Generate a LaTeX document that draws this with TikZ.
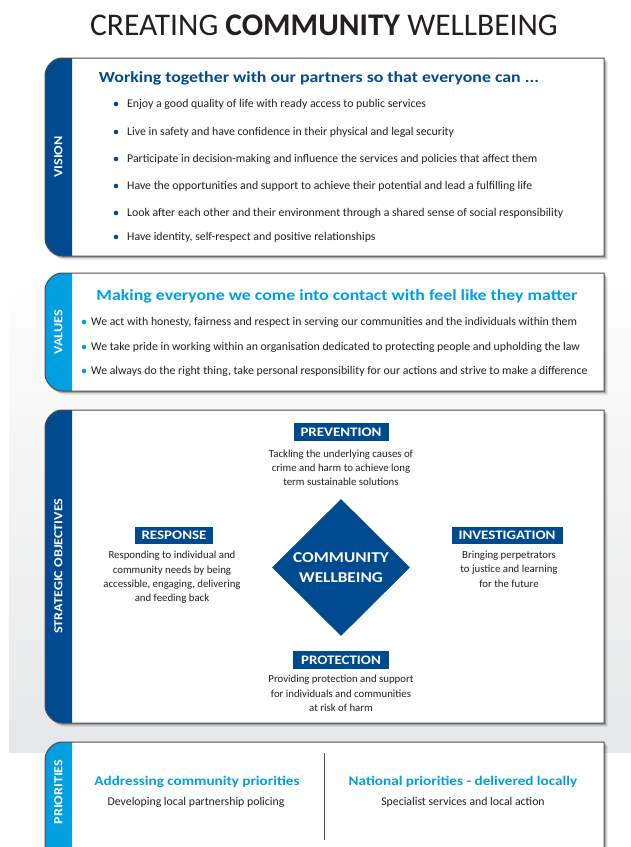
\documentclass[tikz,border=0pt]{standalone}
\usepackage{fontspec}
\setmainfont{Carlito}
\newfontfamily\widefont[FakeStretch=1.15]{Carlito}
\usetikzlibrary{shapes.geometric}
\definecolor{dblue}{HTML}{004A8F}
\definecolor{lblue}{HTML}{00A0E0}
\definecolor{txt}{HTML}{231F20}
\definecolor{bordergray}{HTML}{4D4D4F}
\definecolor{bggray}{HTML}{E6E7E8}
\newcommand\mypanel[3]{%
  \fill[black,opacity=0.12] (75,#1+3.5) -- (607.5,#1+3.5) -- (607.5,#2+3.5) -- (65,#2+3.5) .. controls (55.6,#2+3.5) and (48,#2-5.9) .. (48,#2-13.5) -- (48,#1+20.5) -- cycle;
  \fill[black,opacity=0.22] (74,#1+2) -- (606,#1+2) -- (606,#2+2) -- (64,#2+2) .. controls (54.6,#2+2) and (47,#2-7.4) .. (47,#2-15) -- (47,#1+19) -- cycle;
  \fill[white] (72,#1) -- (604,#1) -- (604,#2) -- (72,#2) -- cycle;
  \fill[#3] (72,#1) -- (72,#2) -- (62,#2) .. controls (52.6,#2) and (45,#2-9.4) .. (45,#2-17) -- (45,#1+17) .. controls (45,#1+9.4) and (52.6,#1) .. (62,#1) -- cycle;
  \draw[bordergray,line width=1pt] (72,#1) -- (604,#1) -- (604,#2) -- (62,#2) .. controls (52.6,#2) and (45,#2-9.4) .. (45,#2-17) -- (45,#1+17) .. controls (45,#1+9.4) and (52.6,#1) .. (62,#1) -- cycle;
}
\tikzset{
  bodyfont/.style={font=\fontsize{11.8}{14}\selectfont},
  stratfont/.style={font=\fontsize{10.8}{14.3}\selectfont},
  bul/.style={circle, fill=#1, inner sep=0pt, minimum size=4.6pt},
  btext/.style={anchor=base west, inner sep=0pt, text=txt, bodyfont, yshift=-3.8pt},
  ctext/.style={anchor=north, inner sep=0pt, text=txt, stratfont, align=center},
  heading/.style={inner sep=0pt, anchor=base, yshift=-5pt, font=\widefont\bfseries\fontsize{15.5}{18}\selectfont},
  lbl/.style={fill=dblue, text=white, inner sep=0pt, font=\widefont\bfseries\fontsize{13}{15}\selectfont},
  tablabel/.style={rotate=90, text=white, inner sep=0pt, font=\widefont\bfseries\fontsize{12.3}{14}\selectfont},
  phead/.style={inner sep=0pt, anchor=base, yshift=-4.8pt, text=lblue, font=\widefont\bfseries\fontsize{13.2}{16}\selectfont},
  ptext/.style={inner sep=0pt, anchor=base, yshift=-3.8pt, text=txt, bodyfont},
}
\begin{document}
\begin{tikzpicture}[x=1pt,y=-1pt]
\useasboundingbox (0,0) rectangle (631,847);
\clip (0,0) rectangle (631,847);
\fill[white] (0,0) rectangle (631,847);
\shade[top color=white, bottom color=bggray] (9,258) rectangle (631,752);

% title
\node[inner sep=0pt, text=txt, font=\fontsize{31.5}{36}\selectfont] (title) at (324,25) {CREATING \textbf{COMMUNITY} WELLBEING};

% VISION
\mypanel{58}{256}{dblue}
\node[tablabel] (tabvision) at (58.5,157) {VISION};
\node[heading, text=dblue] (vhead) at (319,77) {Working together with our partners so that everyone can ...};
\node[bul=dblue] (vb1) at (116,104) {};
\node[btext] (vt1) at (127,104) {Enjoy a good quality of life with ready access to public services};
\node[bul=dblue] (vb2) at (116,132) {};
\node[btext] (vt2) at (127,132) {Live in safety and have confidence in their physical and legal security};
\node[bul=dblue] (vb3) at (116,159) {};
\node[btext] (vt3) at (127,159) {Participate in decision-making and influence the services and policies that affect them};
\node[bul=dblue] (vb4) at (116,186) {};
\node[btext] (vt4) at (127,186) {Have the opportunities and support to achieve their potential and lead a fulfilling life};
\node[bul=dblue] (vb5) at (116,213) {};
\node[btext] (vt5) at (127,213) {Look after each other and their environment through a shared sense of social responsibility};
\node[bul=dblue] (vb6) at (116,237) {};
\node[btext] (vt6) at (127,237) {Have identity, self-respect and positive relationships};

% VALUES
\mypanel{273}{391}{lblue}
\node[tablabel] (tabvalues) at (58.5,332) {VALUES};
\node[heading, text=lblue] (valhead) at (337,295) {Making everyone we come into contact with feel like they matter};
\node[bul=lblue] (lb1) at (84,322) {};
\node[btext] (lt1) at (91,322) {We act with honesty, fairness and respect in serving our communities and the individuals within them};
\node[bul=lblue] (lb2) at (84,347) {};
\node[btext] (lt2) at (91,347) {We take pride in working within an organisation dedicated to protecting people and upholding the law};
\node[bul=lblue] (lb3) at (84,371) {};
\node[btext] (lt3) at (91,371) {We always do the right thing, take personal responsibility for our actions and strive to make a difference};

% STRATEGIC OBJECTIVES
\mypanel{410}{723}{dblue}
\node[tablabel] (tabstrat) at (58.5,566) {STRATEGIC OBJECTIVES};
\node[diamond, fill=dblue, inner sep=0pt, minimum width=138pt, minimum height=137pt, text=white, align=center, font=\widefont\bfseries\fontsize{15}{20}\selectfont] (cw) at (341,567.5) {COMMUNITY\\WELLBEING};

\node[lbl, minimum width=95pt, minimum height=18pt] (prev) at (341,432) {PREVENTION};
\node[ctext] (prevt) at (341,449.5) {Tackling the underlying causes of\\crime and harm to achieve long\\term sustainable solutions};

\node[lbl, minimum width=78pt, minimum height=17pt] (resp) at (174,535.5) {RESPONSE};
\node[ctext] (respt) at (172,551) {Responding to individual and\\community needs by being\\accessible, engaging, delivering\\and feeding back};

\node[lbl, minimum width=111pt, minimum height=17pt] (inv) at (507,535.5) {INVESTIGATION};
\node[ctext] (invt) at (509,551) {Bringing perpetrators\\to justice and learning\\for the future};

\node[lbl, minimum width=96pt, minimum height=18pt] (prot) at (341,660) {PROTECTION};
\node[ctext] (prott) at (341,675) {Providing protection and support\\for individuals and communities\\at risk of harm};

% PRIORITIES
\mypanel{742}{880}{lblue}
\node[tablabel] (tabprio) at (58.5,792) {PRIORITIES};
\coordinate (dtop) at (324,753);
\coordinate (dbot) at (324,840);
\draw[bordergray, line width=1pt] (dtop) -- (dbot);
\node[phead] (ph1) at (197,781) {Addressing community priorities};
\node[ptext] (pt1) at (196,802) {Developing local partnership policing};
\node[phead] (ph2) at (463,781) {National priorities - delivered locally};
\node[ptext] (pt2) at (463,802) {Specialist services and local action};
\end{tikzpicture}
\end{document}
